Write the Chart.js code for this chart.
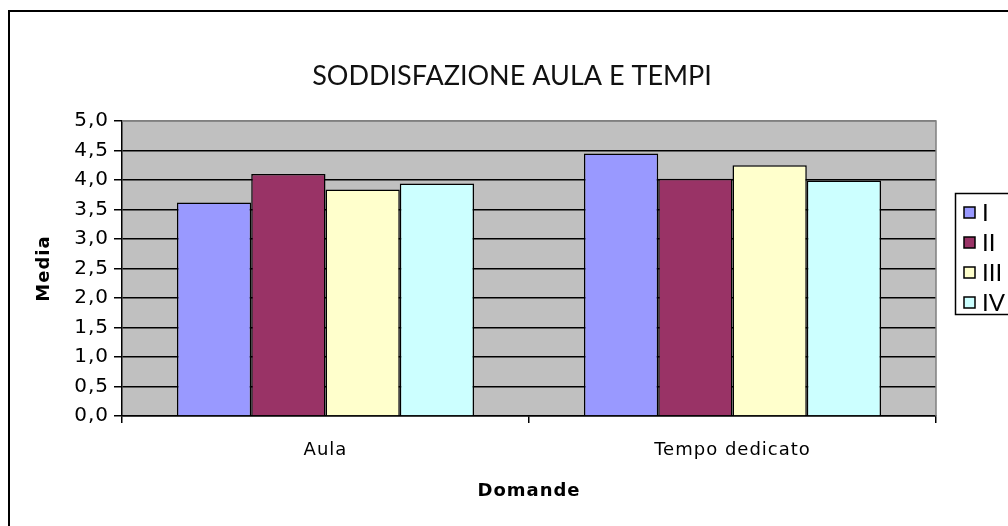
<!DOCTYPE html>
<html>
<head>
<meta charset="utf-8">
<script src="https://cdn.jsdelivr.net/npm/chart.js@4.4.1/dist/chart.umd.min.js"></script>
<style>
body{margin:0;background:#fff}
#wrap{width:1008px;height:526px;position:relative}
</style>
</head>
<body>
<div id="wrap"><canvas id="barChart"></canvas></div>
<script>
// dati
const categories = ['Aula', 'Tempo dedicato'];
const seriesNames = ['I', 'II', 'III', 'IV'];
const serieI = [3.62, 4.45];
const serieII = [4.1, 4.02];
const serieIII = [3.84, 4.25];
const serieIV = [3.94, 3.99];
const yTickLabels = ['0,0','0,5','1,0','1,5','2,0','2,5','3,0','3,5','4,0','4,5','5,0'];
const colors = ['#9999ff', '#993366', '#ffffcc', '#ccffff'];

const titleText = 'SODDISFAZIONE AULA E TEMPI';
const axisTitleFont = {family: 'DejaVu Sans', size: 18, weight: 'bold'};

// sfondo grigio, cornice, titolo e legenda
const decor = {
  id: 'decor',
  beforeUpdate(chart) {
    chart.ctx.letterSpacing = '1px';
  },
  beforeDraw(chart) {
    const c = chart.ctx, a = chart.chartArea;
    c.letterSpacing = '1px';
    c.save();
    c.fillStyle = '#c0c0c0';
    c.fillRect(a.left, a.top, a.right - a.left, a.bottom - a.top);
    c.strokeStyle = '#000';
    c.lineWidth = 2;
    c.beginPath();
    c.moveTo(9, 540); c.lineTo(9, 11); c.lineTo(1020, 11);
    c.stroke();
    c.restore();
  },
  afterDatasetsDraw(chart) {
    const c = chart.ctx, a = chart.chartArea;
    c.save();
    c.letterSpacing = '0px';
    c.strokeStyle = '#808080';
    c.lineWidth = 1.5;
    c.beginPath();
    c.moveTo(a.left, a.top); c.lineTo(a.right, a.top); c.lineTo(a.right, a.bottom);
    c.stroke();
    // titolo
    c.fillStyle = '#111';
    c.font = '27px Lato';
    c.textAlign = 'center';
    c.textBaseline = 'middle';
    c.fillText(titleText, 512, 76);
    // legenda
    c.strokeStyle = '#000';
    c.lineWidth = 1.5;
    c.strokeRect(955.5, 193.5, 70, 121);
    c.font = '24px Lato';
    c.textAlign = 'left';
    chart.data.datasets.forEach((ds, i) => {
      const y = 212 + i * 30;
      c.fillStyle = ds.backgroundColor;
      c.fillRect(964, y - 5, 11, 11);
      c.strokeRect(964, y - 5, 11, 11);
      c.fillStyle = '#000';
      c.fillText(ds.label, 982, y + 1);
    });
    c.restore();
  }
};

const seriesData = [serieI, serieII, serieIII, serieIV];

new Chart(document.getElementById('barChart'), {
  type: 'bar',
  data: {
    labels: categories,
    datasets: seriesNames.map((n, i) => ({
      label: n,
      data: seriesData[i],
      backgroundColor: colors[i],
      borderColor: '#000',
      borderWidth: 1.5,
      categoryPercentage: 0.73,
      barPercentage: 1.0
    }))
  },
  options: {
    responsive: true,
    maintainAspectRatio: false,
    animation: false,
    devicePixelRatio: 1,
    layout: {padding: {top: 121, right: 72, left: 0, bottom: 0}},
    plugins: {legend: {display: false}, tooltip: {enabled: false}},
    scales: {
      x: {
        afterFit(scale) { scale.height = 110; },
        ticks: {font: {family: 'DejaVu Sans', size: 18}, color: '#000', padding: 17},
        grid: {offset: true, drawOnChartArea: false, color: '#000', tickLength: 7, lineWidth: 1.5},
        border: {color: '#000', width: 1.5},
        title: {display: true, text: 'Domande', color: '#000',
          font: axisTitleFont, padding: {top: 0, bottom: 24}}
      },
      y: {
        min: 0, max: 5,
        afterFit(scale) { scale.width = 122; },
        ticks: {stepSize: 0.5, font: {family: 'DejaVu Sans', size: 20}, color: '#000', padding: 5,
          callback: (v, i) => yTickLabels[i]},
        grid: {color: ctx => ctx.tick && ctx.tick.value === 5 ? '#808080' : '#000',
          tickColor: '#000', tickLength: 8, lineWidth: 1.5},
        border: {color: '#000', width: 1.5},
        title: {display: true, text: 'Media', color: '#000',
          font: axisTitleFont, padding: {top: 34, bottom: 0}}
      }
    }
  },
  plugins: [decor]
});
</script>
</body>
</html>
